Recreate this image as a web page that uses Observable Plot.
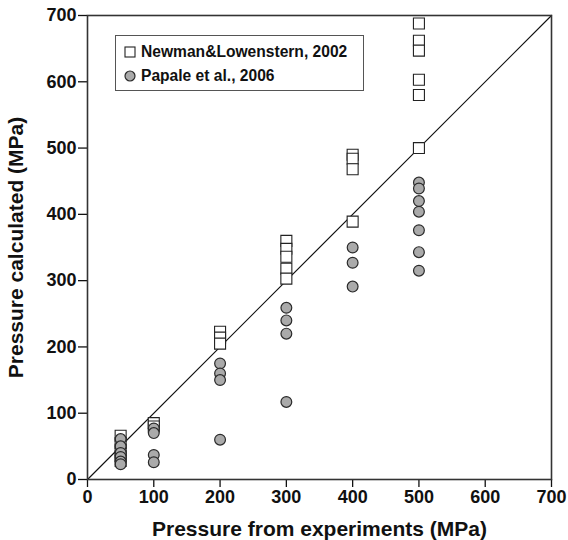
<!DOCTYPE html>
<html>
<head>
<meta charset="utf-8">
<script src="https://cdn.jsdelivr.net/npm/d3@7"></script>
<script src="https://cdn.jsdelivr.net/npm/@observablehq/plot@0.6"></script>
<style>
  html, body { margin: 0; padding: 0; background: #fff; }
  #wrap { position: relative; width: 568px; height: 540px; }
  #legend {
    position: absolute; left: 115px; top: 35px; width: 247px; height: 54px;
    border: 1px solid #555; background: #fff;
    font-family: "Liberation Sans", Arial, sans-serif; font-weight: bold; font-size: 15.6px; color: #111;
  }
  .item { position: absolute; left: 8px; display: flex; align-items: center; white-space: nowrap; }
  .item svg { margin-right: 5px; }
  svg g[aria-label="x-axis label"] text, svg g[aria-label="y-axis label"] text { font-size: 21px; }
</style>
</head>
<body>
<div id="wrap"></div>
<script>
// Data
const seriesNames = ["Newman&Lowenstern, 2002", "Papale et al., 2006"];
const newmanX = [50, 50, 50, 50, 50, 100, 100, 200, 200, 200, 300, 300, 300, 300, 300, 400, 400, 400, 400, 500, 500, 500, 500, 500, 500];
const newmanY = [66, 55, 45, 35, 28, 85, 80, 223, 214, 205, 360, 348, 336, 318, 303, 490, 484, 468, 389, 688, 662, 647, 603, 580, 500];
const papaleX = [50, 50, 50, 50, 50, 50, 100, 100, 100, 100, 200, 200, 200, 200, 300, 300, 300, 300, 400, 400, 400, 500, 500, 500, 500, 500, 500, 500];
const papaleY = [61, 50, 40, 34, 27, 23, 77, 70, 37, 26, 175, 160, 150, 60, 259, 240, 220, 117, 350, 327, 291, 448, 439, 420, 404, 376, 343, 315];
const axisDomain = [0, 700];
const tickValues = [0, 100, 200, 300, 400, 500, 600, 700];
const xLabel = "Pressure from experiments (MPa)";
const yLabel = "Pressure calculated (MPa)";

const newman = newmanX.map((x, i) => ({x, y: newmanY[i]}));
const papale = papaleX.map((x, i) => ({x, y: papaleY[i]}));
const diag = axisDomain.map(d => ({x: d, y: d}));

const chart = Plot.plot({
  width: 568,
  height: 540,
  marginLeft: 87,
  marginRight: 17,
  marginTop: 15,
  marginBottom: 61,
  style: {fontFamily: "'Liberation Sans', Arial, sans-serif", fontSize: "18px", fontWeight: "bold", color: "#111", background: "#fff"},
  x: {domain: axisDomain},
  y: {domain: axisDomain},
  marks: [
    Plot.axisX({ticks: tickValues, fontSize: 18, tickSize: 8, tickPadding: 3, strokeWidth: 1.3, label: xLabel, labelAnchor: "center", labelArrow: "none", labelOffset: 56}),
    Plot.axisY({ticks: tickValues, fontSize: 18, tickSize: 9, tickPadding: 2, strokeWidth: 1.3, label: yLabel, labelAnchor: "center", labelArrow: "none", labelOffset: 79}),
    Plot.line(diag, {x: "x", y: "y", stroke: "#111", strokeWidth: 1.2}),
    Plot.dot(newman, {x: "x", y: "y", symbol: "square", r: 6.2, fill: "#fff", stroke: "#222", strokeWidth: 1.1}),
    Plot.dot(papale, {x: "x", y: "y", symbol: "circle", r: 5.4, fill: "#aaaaaa", stroke: "#2a2a2a", strokeWidth: 1.2}),
    Plot.frame({stroke: "#333", strokeWidth: 1.6})
  ]
});
const wrap = document.getElementById("wrap");
wrap.appendChild(chart);

// Legend
const legend = document.createElement("div");
legend.id = "legend";
const sq = '<svg width="12" height="12"><rect x="1" y="1" width="10" height="10" fill="#fff" stroke="#222" stroke-width="1.1"/></svg>';
const ci = '<svg width="12" height="12"><circle cx="6" cy="6" r="5" fill="#aaaaaa" stroke="#2a2a2a" stroke-width="1.2"/></svg>';
legend.innerHTML =
  `<div class="item" style="top:7px">${sq}<span>${seriesNames[0]}</span></div>` +
  `<div class="item" style="top:31px">${ci}<span>${seriesNames[1]}</span></div>`;
wrap.appendChild(legend);
</script>
</body>
</html>
